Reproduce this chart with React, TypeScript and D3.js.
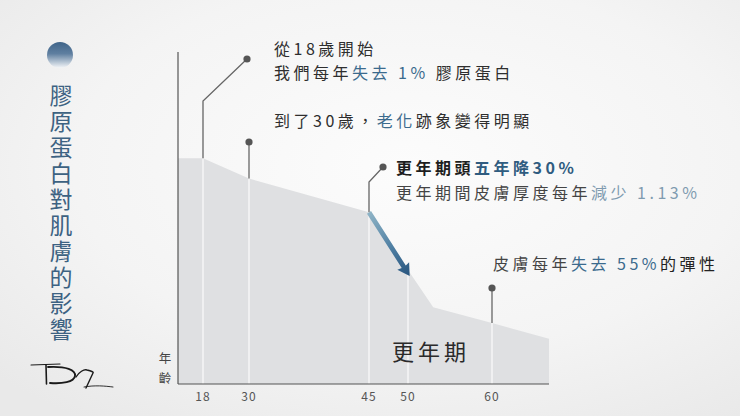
import React from "react";
import * as d3 from "d3";

const W = 740;
const H = 416;

// data
const ages = [12, 18, 30, 45, 53, 60, 70];
const levels = [100, 100, 91, 76, 34, 27, 20];
const tickAges = [18, 30, 45, 50, 60];
const title = "膠原蛋白對肌膚的影響";
const yAxisLabel = "年齡";

// piecewise age scale (compressed early years)
const xDomain = [12, 18, 30, 45, 50, 60, 70];
const xRange = [178, 203, 249, 369, 408, 492, 549];

const FONT = "'Noto Sans CJK TC', 'Noto Sans CJK SC', 'Noto Sans', sans-serif";
const BLUE = "#3b6a8d";
const DARK = "#2e2e2e";

export default function App() {
  const x = d3.scaleLinear().domain(xDomain).range(xRange);
  const y = d3.scaleLinear().domain([0, 147]).range([384, 52]);
  const pts: [number, number][] = ages.map((a, i) => [x(a), y(levels[i])]);
  const area = d3
    .area<[number, number]>()
    .x((d) => d[0])
    .y0(y(0))
    .y1((d) => d[1])
    .curve(d3.curveLinear)(pts) as string;

  const lvlAt = (a: number) => {
    const s = d3.scaleLinear().domain(ages).range(levels);
    return y(s(a));
  };

  // arrow from 45 to ~50
  const ax0 = x(45), ay0 = lvlAt(45);
  const ax1 = x(50.2), ay1 = lvlAt(50.2) + 2;
  const ang = Math.atan2(ay1 - ay0, ax1 - ax0);
  const len = Math.hypot(ax1 - ax0, ay1 - ay0);

  const txt = {
    fontFamily: FONT,
    fontSize: 16,
    letterSpacing: 3.5,
    fill: DARK,
  } as React.CSSProperties;

  return (
    <svg width={W} height={H} style={{ position: "absolute", left: 0, top: 0 }}>
      <defs>
        <radialGradient id="bg" cx="55%" cy="40%" r="75%">
          <stop offset="0%" stopColor="#fcfcfc" />
          <stop offset="60%" stopColor="#f4f4f4" />
          <stop offset="100%" stopColor="#e9e9e9" />
        </radialGradient>
        <linearGradient id="circ" x1="0" y1="0" x2="0" y2="1">
          <stop offset="0%" stopColor="#3f6489" />
          <stop offset="45%" stopColor="#5f7fa0" />
          <stop offset="100%" stopColor="#f4f6f8" />
        </linearGradient>
        <linearGradient id="arrowG" gradientUnits="userSpaceOnUse" x1={0} y1={0} x2={len} y2={0}>
          <stop offset="0%" stopColor="#8fb4c6" />
          <stop offset="55%" stopColor="#4f7fa3" />
          <stop offset="100%" stopColor="#28557e" />
        </linearGradient>
      </defs>
      <rect width={W} height={H} fill="url(#bg)" />

      {/* left title */}
      <circle cx={60} cy={55} r={13} fill="url(#circ)" />
      <text
        x={61}
        y={84}
        style={{
          fontFamily: FONT,
          fontSize: 23,
          fill: "#3d6282",
          writingMode: "vertical-rl",
          letterSpacing: 3,
        } as React.CSSProperties}
      >
        {title}
      </text>
      {/* logo */}
      <g fill="none" stroke="#1a1a1a" strokeLinecap="round" strokeLinejoin="round">
        <path d="M31,365 L60,364" strokeWidth={1.1} />
        <path d="M46,365 L46.5,384" strokeWidth={1.6} />
        <path d="M48,367 C66,366 76,370 75,376 C74,382 62,384 50,383" strokeWidth={1.8} />
        <path d="M76,377 C79,372 84,369 87,370 C91,371 94,372 93,373 L86,388" strokeWidth={1.4} />
        <path d="M84,387 C95,385 105,386 113,387" strokeWidth={0.9} />
      </g>

      {/* area */}
      <path d={area} fill="#dfe0e2" />
      {/* gridlines */}
      {tickAges.map((a) => (
        <line
          key={a}
          x1={x(a)}
          x2={x(a)}
          y1={y(0)}
          y2={lvlAt(a)}
          stroke="#f6f6f6"
          strokeWidth={1.5}
        />
      ))}
      {/* axes */}
      <line x1={x(12)} x2={x(12)} y1={y(147)} y2={y(0)} stroke="#555" strokeWidth={1.2} />
      <line x1={x(12)} x2={x(70)} y1={y(0)} y2={y(0)} stroke="#555" strokeWidth={1.2} />
      {tickAges.map((a) => (
        <text
          key={a}
          x={x(a)}
          y={401}
          textAnchor="middle"
          style={{ fontFamily: FONT, fontSize: 12, fill: "#555", letterSpacing: 1 }}
        >
          {a}
        </text>
      ))}
      <text
        x={165}
        y={352}
        style={{
          fontFamily: FONT,
          fontSize: 12.5,
          fill: "#444",
          writingMode: "vertical-rl",
          letterSpacing: 7,
        } as React.CSSProperties}
      >
        {yAxisLabel}
      </text>

      {/* pins */}
      <g stroke="#666" strokeWidth={1.3} fill="none">
        <path d={`M${x(18)},${lvlAt(18)} L${x(18)},101 L${x(30) - 2},59`} />
        <path d={`M${x(30)},${lvlAt(30)} L${x(30)},142`} />
        <path d={`M${x(45)},${lvlAt(45)} L${x(45)},182 L${x(45) + 14},167`} />
        <path d={`M${x(60)},${lvlAt(60)} L${x(60)},288`} />
      </g>
      <g fill="#555">
        <circle cx={x(30) - 2} cy={59} r={3.6} />
        <circle cx={x(30)} cy={142} r={3.6} />
        <circle cx={x(45) + 14} cy={167} r={3.6} />
        <circle cx={x(60)} cy={288} r={3.6} />
      </g>

      {/* arrow */}
      <g transform={`translate(${ax0},${ay0}) rotate(${(ang * 180) / Math.PI})`}>
        <path
          d={`M0,-2.4 L${len - 11},-2.4 L${len - 12},-7 L${len},0 L${len - 12},7 L${len - 11},2.4 L0,2.4 Z`}
          fill="url(#arrowG)"
        />
      </g>

      {/* annotations */}
      <text x={274} y={55} style={txt}>從18歲開始</text>
      <text x={274} y={79} style={txt}>
        我們每年<tspan fill={BLUE}>失去 1%</tspan> 膠原蛋白
      </text>
      <text x={274} y={127} style={txt}>
        到了30歲，<tspan fill={BLUE}>老化</tspan>跡象變得明顯
      </text>
      <text x={396} y={174} style={{ ...txt, fontWeight: 700, fill: "#1e1e1e" }}>
        更年期頭<tspan fill="#2f5c80">五年降30%</tspan>
      </text>
      <text x={396} y={199} style={{ ...txt, fill: "#444" }}>
        更年期間皮膚厚度每年<tspan fill="#7f9bb0">減少 1.13%</tspan>
      </text>
      <text x={493} y={270} style={{ ...txt, fill: "#444" }}>
        皮膚每年<tspan fill={BLUE}>失去 55%</tspan><tspan fill="#222">的彈性</tspan>
      </text>
      <text
        x={392}
        y={360}
        style={{ fontFamily: FONT, fontSize: 22, letterSpacing: 4, fill: "#2a2a2a" }}
      >
        更年期
      </text>
    </svg>
  );
}
